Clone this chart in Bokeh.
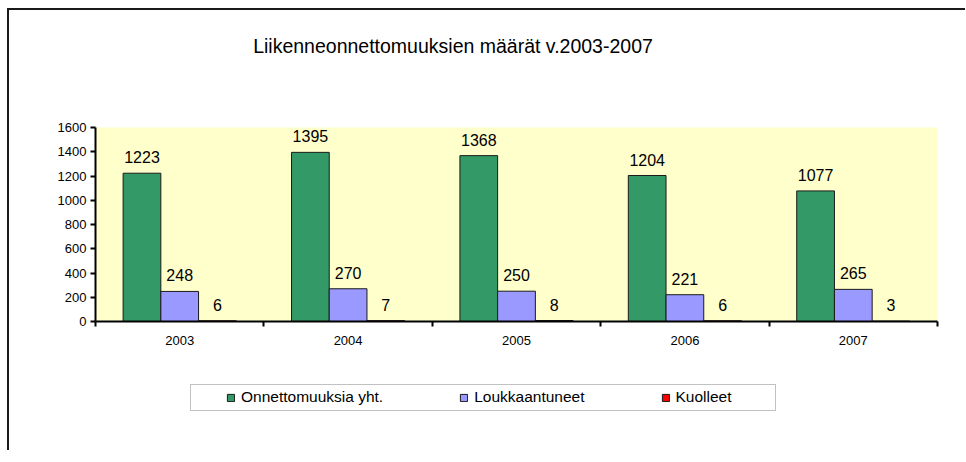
from bokeh.plotting import figure
from bokeh.layouts import column
from bokeh.models import (Range1d, FixedTicker, Legend, LegendItem,
                          ColumnDataSource, BoxAnnotation, Label)
from bokeh.embed import file_html
from bokeh.resources import INLINE
from bokeh.core.properties import value

# ---- data ----
years = ["2003", "2004", "2005", "2006", "2007"]
onnettomuuksia = [1223, 1395, 1368, 1204, 1077]
loukkaantuneet = [248, 270, 250, 221, 265]
kuolleet = [6, 7, 8, 6, 3]
series_names = ["Onnettomuuksia yht.", "Loukkaantuneet", "Kuolleet"]
y_ticks = [0, 200, 400, 600, 800, 1000, 1200, 1400, 1600]
title_text = "Liikenneonnettomuuksien määrät v.2003-2007"

colors = ["#339966", "#9999FF", "#FF0000"]
FONT = "Liberation Sans"
W = 956
MBL, MBR = 86, 28
FW = W - MBL - MBR


def strip(height):
    f = figure(width=W, height=height, output_backend="svg",
               toolbar_location=None,
               x_range=Range1d(0, FW), y_range=Range1d(0, height),
               x_axis_type=None, y_axis_type=None,
               min_border_left=MBL, min_border_right=MBR, min_border_top=0,
               min_border_bottom=0,
               background_fill_color="white", border_fill_color="white",
               outline_line_color=None)
    f.xgrid.visible = False
    f.ygrid.visible = False
    return f


# ---- title strip ----
TH = 60
tf = strip(TH)
tf.add_layout(Label(x=357.5, y=25, text=title_text, text_align="center",
                    text_baseline="alphabetic", text_font=FONT,
                    text_font_size="19.5px", text_color="black"))

# ---- main chart ----
n = len(years)
p = figure(width=W, height=310, output_backend="svg", toolbar_location=None,
           x_range=Range1d(0, n), y_range=Range1d(0, 1600),
           min_border_left=MBL, min_border_right=MBR, min_border_top=57,
           min_border_bottom=59,
           background_fill_color="#FFFFCC", border_fill_color="white",
           outline_line_color=None)
p.xgrid.visible = False
p.ygrid.visible = False

centers = [i + 0.5 for i in range(n)]
bw = 0.224
all_series = [onnettomuuksia, loukkaantuneet, kuolleet]
for k, (vals, col) in enumerate(zip(all_series, colors)):
    xs = [c + (k - 1) * bw for c in centers]
    src = ColumnDataSource(dict(x=xs, top=vals, label=[str(v) for v in vals]))
    p.vbar(x="x", top="top", bottom=0, width=bw, source=src,
           fill_color=col, line_color="#1a1a1a", line_width=1)
    p.text(x="x", y="top", text="label", source=src, text_align="center",
           text_baseline="alphabetic", y_offset=-16,
           text_font=value(FONT), text_font_size="16px", text_color="black")

xa = p.xaxis[0]
xa.ticker = FixedTicker(ticks=centers, minor_ticks=list(range(n + 1)))
xa.major_label_overrides = {c: y for c, y in zip(centers, years)}
xa.axis_line_width = 2
xa.axis_line_color = "black"
xa.major_tick_out = 0
xa.major_tick_in = 0
xa.minor_tick_out = 5
xa.minor_tick_in = 0
xa.minor_tick_line_width = 2
xa.minor_tick_line_color = "black"
xa.major_label_standoff = 9
xa.major_label_text_font = FONT
xa.major_label_text_font_size = "13px"
xa.major_label_text_color = "black"

ya = p.yaxis[0]
ya.ticker = FixedTicker(ticks=y_ticks)
ya.axis_line_width = 2
ya.axis_line_color = "black"
ya.major_tick_out = 5
ya.major_tick_in = 0
ya.major_tick_line_width = 2
ya.major_tick_line_color = "black"
ya.minor_tick_line_color = None
ya.major_label_standoff = 4
ya.major_label_text_font = FONT
ya.major_label_text_font_size = "13px"
ya.major_label_text_color = "black"

# ---- legend strip ----
LH = 70
lg = strip(LH)
lg.add_layout(BoxAnnotation(left=95, right=680, bottom=40, top=66,
                            fill_color="white", fill_alpha=1,
                            line_color="#333333", line_width=1,
                            level="underlay"))
items = []
for name, col in zip(series_names, colors):
    # one off-frame sample so the legend swatch is drawn
    r = lg.vbar(x=[-1000], top=[-999], bottom=-1000, width=1,
                fill_color=col, line_color="#1a1a1a", line_width=1)
    items.append(LegendItem(label=name, renderers=[r]))
legend = Legend(items=items, orientation="horizontal", location=(131, 44),
                spacing=76, padding=0, margin=0, border_line_color=None,
                background_fill_alpha=0, glyph_width=9, glyph_height=9,
                label_standoff=6, label_text_font=FONT,
                label_text_font_size="15.5px", label_text_color="black")
lg.add_layout(legend)

layout = column(tf, p, lg, spacing=0,
                styles={"margin-left": "7px", "margin-top": "8px",
                        "border-left": "2px solid #1a1a1a",
                        "border-top": "2px solid #1a1a1a"})

open("out.html", "w").write(file_html(layout, INLINE))
